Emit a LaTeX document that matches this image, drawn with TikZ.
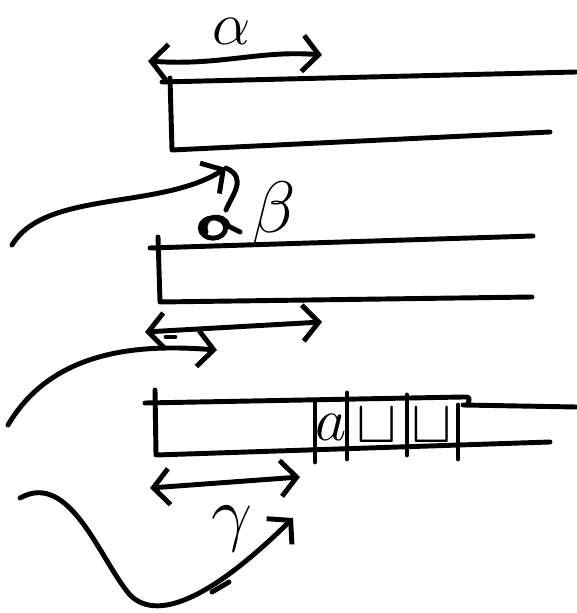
\documentclass[tikz,border=0pt]{standalone}
\usepackage{amsmath,amssymb}
\usepackage{tikz}
\usetikzlibrary{arrows.meta}

\begin{document}
\begin{tikzpicture}[
  x=0.01cm, y=-0.01cm,
  ink/.style={line width=1.4pt, line cap=round, line join=round},
  both/.style={ink, {Straight Barb[length=1.6mm,width=3.6mm]}-{Straight Barb[length=1.6mm,width=3.6mm]}},
  swoop/.style={ink, -{Straight Barb[length=1.6mm,width=3.6mm]}},
  greek/.style={font=\fontsize{21}{23}\selectfont, inner sep=0pt},
  sym/.style={font=\fontsize{17}{19}\selectfont, inner sep=0pt}
]
  \useasboundingbox (0,0) rectangle (576,613);

  % first tape
  \draw[ink] (162,82) -- (576,72);
  \draw[ink] (170,78) -- (172,150) -- (550,132);
  \coordinate (aL) at (148,61);
  \coordinate (aR) at (322,55);
  \draw[both] (aL) .. controls (220,66) and (260,50) .. (aR);
  \node[greek, font=\fontsize{19}{21}\selectfont] (alpha) at (232,31) {$\alpha$};

  % first swoop to the scribble
  \coordinate (s1) at (12,245);
  \coordinate (h1) at (226,168);
  \draw[swoop] (s1) .. controls (45,190) and (160,210) .. (h1);
  \draw[ink] (h1) .. controls (248,178) and (232,195) .. (226,210);
  \draw[ink] (213,228) ellipse [x radius=3.6pt, y radius=2.9pt];
  \draw[ink] (206,232) .. controls (200,215) and (225,212) .. (228,226) -- (240,232);
  \node[greek] (beta) at (274,214) {$\beta$};

  % second tape
  \draw[ink] (150,248) -- (533,236);
  \draw[ink] (158,237) -- (160,302) -- (532,297);
  \coordinate (bL) at (145,332);
  \coordinate (bR) at (322,322);
  \draw[both] (bL) -- (bR);
  \draw[ink] (166,337) -- (175,337);

  % second swoop
  \coordinate (s2) at (8,425);
  \coordinate (h2) at (217,350);
  \draw[swoop] (s2) .. controls (55,345) and (150,345) .. (h2);

  % third tape
  \draw[ink] (145,403) -- (463,397) .. controls (470,397) .. (468,404);
  \draw[ink] (463,405) -- (576,407);
  \draw[ink] (155,390) -- (156,455) -- (550,442);
  \draw[ink] (315,402) -- (315,462);
  \draw[ink] (347,393) -- (347,459);
  \draw[ink] (407,395) -- (407,455);
  \draw[ink] (458,405) -- (458,459);
  \node[sym] (ca) at (331,427) {$a$};
  \node[sym] (cb) at (377,426) {$\sqcup$};
  \node[sym] (cc) at (432,426) {$\sqcup$};
  \coordinate (cL) at (150,488);
  \coordinate (cR) at (300,477);
  \draw[both] (cL) -- (cR);
  \node[greek] (gamma) at (232,529) {$\gamma$};

  % third swoop
  \coordinate (s3) at (20,498);
  \coordinate (h3) at (293,518);
  \draw[swoop] (s3) .. controls (70,470) and (100,560) .. (130,595)
                    .. controls (160,625) and (220,590) .. (h3);
  \draw[ink] (212,592) -- (229,582);
\end{tikzpicture}
\end{document}
